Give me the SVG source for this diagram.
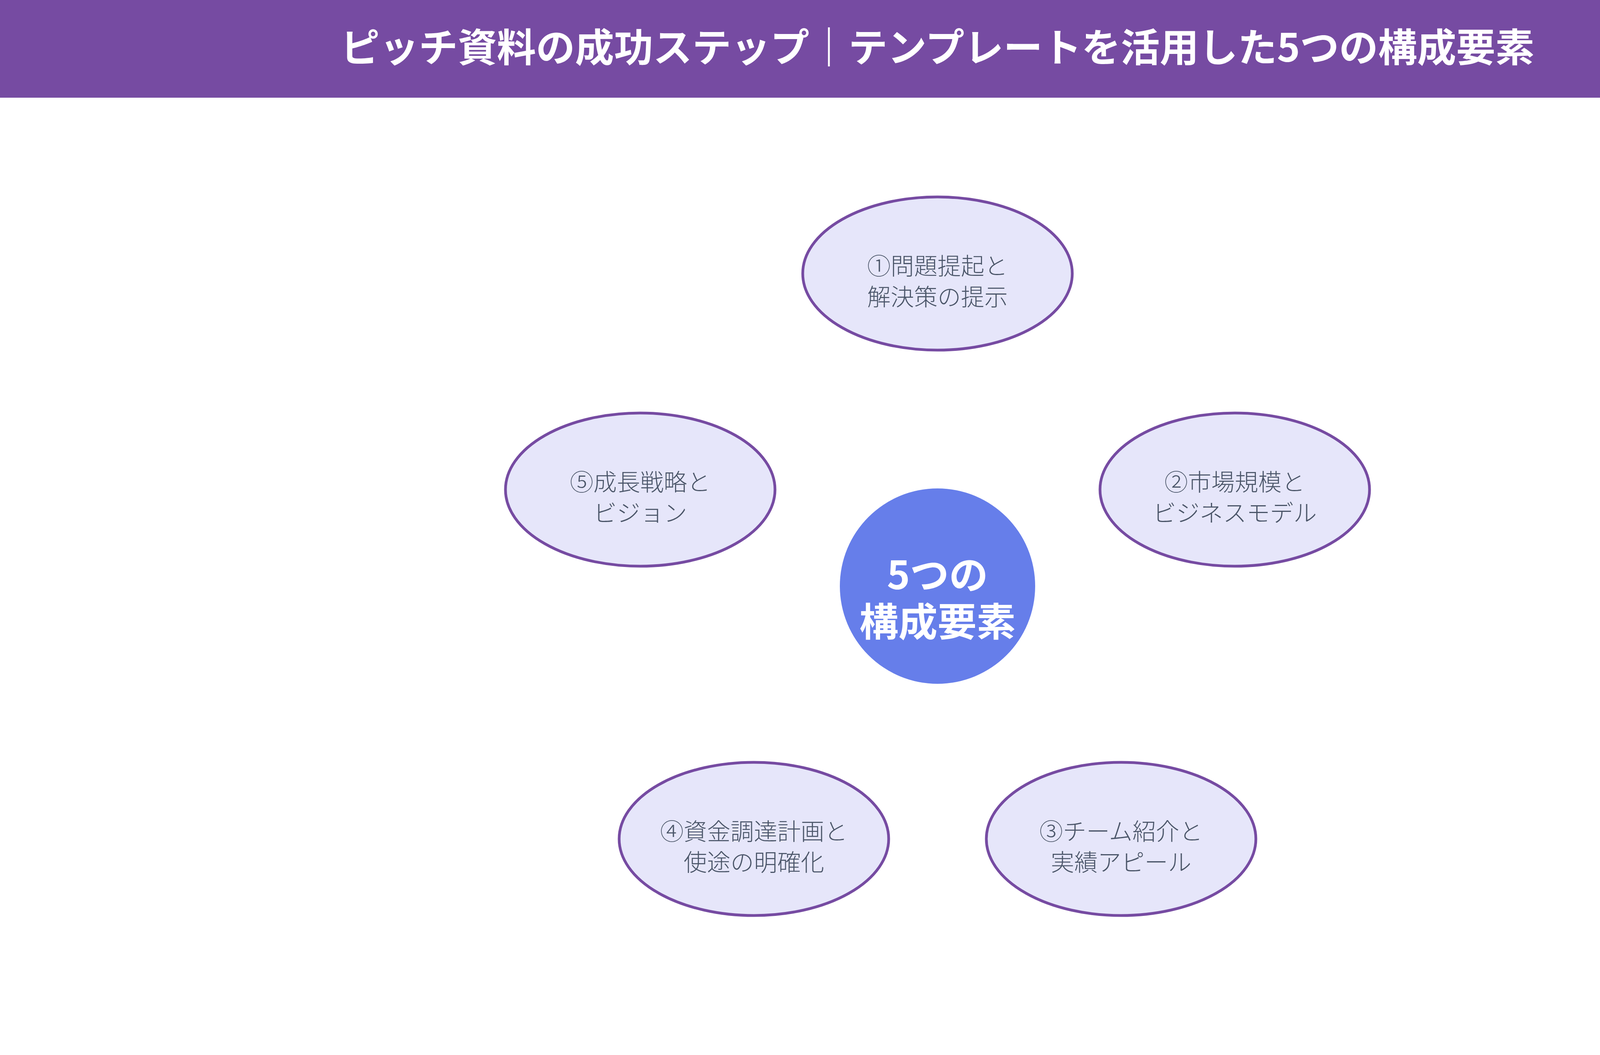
<svg xmlns="http://www.w3.org/2000/svg" width="4800" height="2700" viewBox="0 0 4800 2700">
  <style>
    .title { font-family: "Noto Sans CJK JP", "Noto Sans", sans-serif; font-weight: 700; font-size: 100px; fill: #ffffff; text-anchor: middle; }
    .node ellipse { fill: #e6e6fa; stroke: #764ba2; stroke-width: 7; }
    .label { font-family: "Noto Sans CJK JP", "Noto Sans", sans-serif; font-weight: 300; font-size: 60px; fill: #4a5568; text-anchor: middle; }
    .hub { fill: #667eea; }
    .hubtext { font-family: "Noto Sans CJK JP", "Noto Sans", sans-serif; font-weight: 700; font-size: 100px; fill: #ffffff; text-anchor: middle; }
  </style>
  <rect x="0" y="0" width="4800" height="2700" fill="#ffffff"/>
  <g id="header">
    <rect x="0" y="0" width="4800" height="250" fill="#764ba2"/>
    <text class="title" x="2400" y="158">ピッチ資料の成功ステップ｜テンプレートを活用した5つの構成要素</text>
  </g>
  <g id="connectors"></g>
  <g id="center">
    <circle class="hub" cx="2400" cy="1500" r="250"/>
    <text class="hubtext" x="2400" y="1508"><tspan x="2400" y="1508">5つの</tspan><tspan x="2400" y="1628">構成要素</tspan></text>
  </g>
  <g id="node1" class="node">
    <ellipse cx="2400" cy="700" rx="345" ry="196"/>
    <text class="label"><tspan x="2400" y="703">①問題提起と</tspan><tspan x="2400" y="782">解決策の提示</tspan></text>
  </g>
  <g id="node2" class="node">
    <ellipse cx="3161" cy="1253" rx="345" ry="196"/>
    <text class="label"><tspan x="3161" y="1256">②市場規模と</tspan><tspan x="3161" y="1335">ビジネスモデル</tspan></text>
  </g>
  <g id="node3" class="node">
    <ellipse cx="2870" cy="2147" rx="345" ry="196"/>
    <text class="label"><tspan x="2870" y="2150">③チーム紹介と</tspan><tspan x="2870" y="2229">実績アピール</tspan></text>
  </g>
  <g id="node4" class="node">
    <ellipse cx="1930" cy="2147" rx="345" ry="196"/>
    <text class="label"><tspan x="1930" y="2150">④資金調達計画と</tspan><tspan x="1930" y="2229">使途の明確化</tspan></text>
  </g>
  <g id="node5" class="node">
    <ellipse cx="1639" cy="1253" rx="345" ry="196"/>
    <text class="label"><tspan x="1639" y="1256">⑤成長戦略と</tspan><tspan x="1639" y="1335">ビジョン</tspan></text>
  </g>
</svg>
